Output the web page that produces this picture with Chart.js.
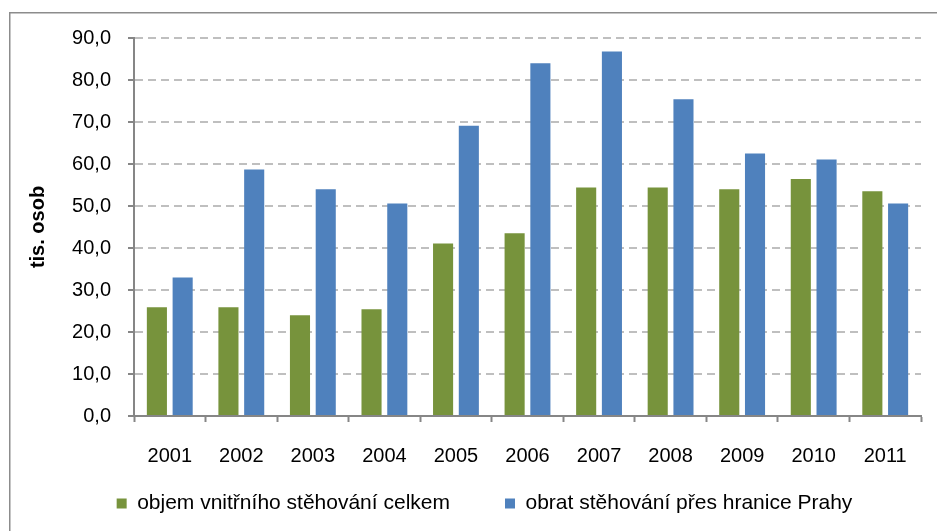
<!DOCTYPE html>
<html>
<head>
<meta charset="utf-8">
<script src="https://cdn.jsdelivr.net/npm/chart.js@4"></script>
<style>
  body { margin: 0; background: #fff; }
</style>
</head>
<body>
<canvas id="myChart" width="937" height="531"></canvas>
<script>
const years = ['2001', '2002', '2003', '2004', '2005', '2006', '2007', '2008', '2009', '2010', '2011'];
const internalMoves = [25.9, 25.9, 24.0, 25.4, 41.1, 43.5, 54.4, 54.4, 54.0, 56.4, 53.5];
const borderMoves = [33.0, 58.7, 54.0, 50.6, 69.1, 84.0, 86.8, 75.4, 62.5, 61.1, 50.6];
const seriesNames = ['objem vnitřního stěhování celkem', 'obrat stěhování přes hranice Prahy'];

const axisGray = '#868686';

Chart.defaults.font.family = "'Liberation Sans', Arial, sans-serif";
Chart.defaults.font.size = 20;
Chart.defaults.color = '#000';

// frame around the chart (only top/left edges are inside the picture)
const frame = {
    id: 'frame',
    beforeDraw(chart) {
        const c = chart.ctx;
        c.save();
        c.strokeStyle = '#8c8c8c';
        c.lineWidth = 1.5;
        c.beginPath();
        c.moveTo(9.75, chart.height + 5);
        c.lineTo(9.75, 12.75);
        c.lineTo(chart.width + 5, 12.75);
        c.stroke();
        c.restore();
    }
};

// legend spacing: wide gap between items but keep the row close under the axis
const legendShift = {
    id: 'legendShift',
    afterLayout(chart) {
        const lg = chart.legend;
        lg.top -= 28;
        lg.left += 19; lg.right += 19;
    }
};

new Chart(document.getElementById('myChart'), {
    type: 'bar',
    data: {
        labels: years,
        datasets: [
            {
                label: seriesNames[0],
                data: internalMoves,
                backgroundColor: '#77933C'
            },
            {
                label: seriesNames[1],
                data: borderMoves,
                backgroundColor: '#4F81BD'
            }
        ]
    },
    options: {
        responsive: false,
        animation: false,
        datasets: {
            bar: { categoryPercentage: 0.72, barPercentage: 0.78 }
        },
        layout: { padding: { left: 10, right: 16, top: 38, bottom: 0 } },
        plugins: {
            tooltip: { enabled: false },
            legend: {
                position: 'bottom',
                maxHeight: 65,
                labels: {
                    boxWidth: 10,
                    boxHeight: 10,
                    padding: 55,
                    font: { size: 21 }
                }
            }
        },
        scales: {
            x: {
                afterFit(scale) { scale.height = 50; },
                grid: {
                    display: true,
                    drawOnChartArea: false,
                    offset: true,
                    tickLength: 6,
                    tickColor: axisGray,
                    tickWidth: 2
                },
                border: { color: axisGray, width: 2 },
                ticks: { padding: 22 }
            },
            y: {
                min: 0,
                max: 90,
                afterFit(scale) { scale.width = 124; },
                ticks: {
                    stepSize: 10,
                    padding: 17,
                    callback: v => v.toFixed(1).replace('.', ',')
                },
                grid: {
                    color: '#BFBFBF',
                    lineWidth: 2,
                    tickLength: 6,
                    tickColor: axisGray,
                    tickWidth: 2,
                    tickBorderDash: []
                },
                border: { color: axisGray, width: 2, dash: [8, 5] },
                title: {
                    display: true,
                    text: 'tis. osob',
                    font: { size: 20, weight: 'bold' },
                    padding: { top: 16, bottom: 0 }
                }
            }
        }
    },
    plugins: [frame, legendShift]
});
</script>
</body>
</html>
